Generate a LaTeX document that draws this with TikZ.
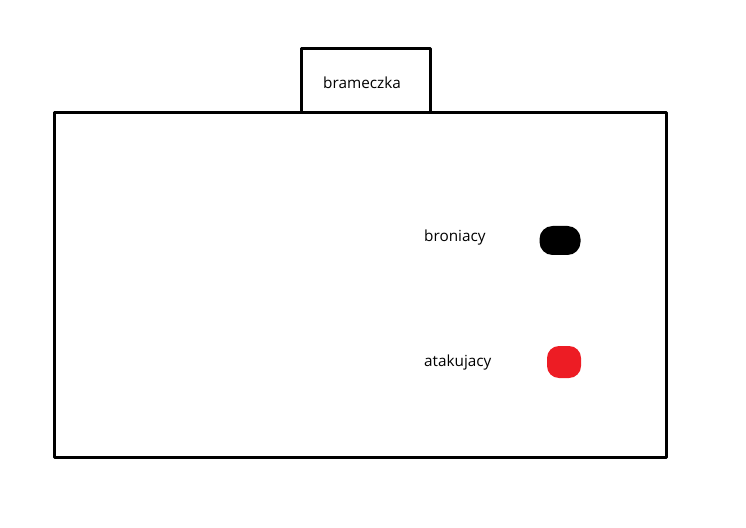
\documentclass[tikz,border=0pt]{standalone}
\usepackage{fontspec}
\setmainfont{Open Sans}
\begin{document}
\begin{tikzpicture}[x=1bp, y=-1bp, line join=round, line cap=round]
		\tikzset{label style/.style={font=\fontsize{15.3bp}{18bp}\selectfont, anchor=base west, inner sep=0pt},
			blob/.style={rectangle, draw=none, inner sep=0pt}}
		\useasboundingbox (0,0) rectangle (746,528);
		\draw[line width=3bp] (54,113) rectangle (666,457);
		\draw[line width=3bp] (301,112)--(301,49)--(430,49)--(430,112);
		\node[label style] (goal) at (323,89) {brameczka};
		\node[label style] (deflab) at (424,242) {broniacy};
		\node[label style] (attlab) at (424,366) {atakujacy};
		\node[blob, fill=black, rounded corners=13bp, minimum width=41bp, minimum height=29bp] (def) at (560,240.5) {};
		\node[blob, fill={rgb,255:red,237;green,28;blue,36}, rounded corners=12bp, minimum width=34bp, minimum height=32bp] (att) at (564,362) {};
		\end{tikzpicture}
\end{document}
